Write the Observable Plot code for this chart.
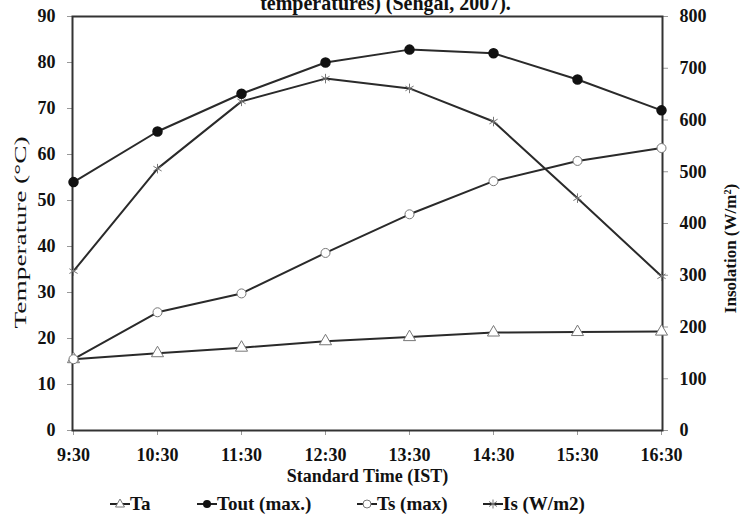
<!DOCTYPE html>
<html>
<head>
<meta charset="utf-8">
<script src="https://cdn.jsdelivr.net/npm/d3@7"></script>
<script src="https://cdn.jsdelivr.net/npm/@observablehq/plot@0.6"></script>
<style>
  body { margin: 0; background: #fff; }
  #wrap { position: relative; width: 741px; height: 516px; overflow: hidden; background: #fff;
          font-family: "Liberation Serif", "DejaVu Serif", serif; font-weight: bold; color: #111; }
  #title { position: absolute; top: -7px; left: 30px; width: 711px; text-align: center;
           font-size: 20px; line-height: 20px; z-index: 2; }
  #chart { position: absolute; top: 0; left: 0; }
  #legend { position: absolute; top: 490px; left: 0; width: 741px; height: 26px; font-size: 19px; }
  .item { position: absolute; top: 1px; height: 26px; display: flex; align-items: center; white-space: nowrap; }
</style>
</head>
<body>
<div id="wrap">
  <div id="chart"></div>
  <div id="title">temperatures) (Sehgal, 2007).</div>
  <div id="legend"></div>
</div>
<script>
const times = ["9:30", "10:30", "11:30", "12:30", "13:30", "14:30", "15:30", "16:30"];
const ta   = [15.5, 16.8, 18.0, 19.4, 20.3, 21.3, 21.4, 21.5];
const tout = [54.0, 65.0, 73.2, 80.0, 82.8, 82.0, 76.3, 69.6];
const ts   = [15.5, 25.7, 29.8, 38.6, 47.0, 54.2, 58.6, 61.4];
const is   = [308, 506, 636, 680, 661, 597, 449, 298];
const tempTicks = [0, 10, 20, 30, 40, 50, 60, 70, 80, 90];
const insTicks = [0, 100, 200, 300, 400, 500, 600, 700, 800];
const seriesNames = ["Ta", "Tout (max.)", "Ts (max)", "Is (W/m2)"];

const TMAX = 90, IMAX = 800;
const toT = v => v * TMAX / IMAX;

const rows = times.map((t, i) => ({time: t, ta: ta[i], tout: tout[i], ts: ts[i], is: is[i]}));

const font = "Liberation Serif";
const line = "#2a2a2a";
const gray = "#777";

const plot = Plot.plot({
  width: 741,
  height: 490,
  marginLeft: 72,
  marginRight: 79,
  marginTop: 16,
  marginBottom: 60,
  style: {fontFamily: font, fontSize: "18px", color: "#111", background: "#fff"},
  x: {type: "point", domain: times, padding: 0},
  y: {domain: [0, TMAX]},
  marks: [
    Plot.axisX({tickSize: 5, tickPadding: 13, fontSize: 18, fontWeight: "bold", stroke: "#999", label: null}),
    Plot.text(["Standard Time (IST)"], {frameAnchor: "bottom", dy: 51, fontSize: 18, fontWeight: "bold", fill: "#111"}),
    Plot.axisY(tempTicks, {anchor: "left", tickSize: 5, tickPadding: 12, fontSize: 18, fontWeight: "bold", stroke: "#999", label: null}),
    Plot.text(["Temperature (°C)"], {frameAnchor: "left", dx: -52, dy: 105, rotate: -90, textAnchor: "start", fontSize: 17, fontWeight: "normal", fill: "#111"}),
    Plot.axisY(insTicks.map(toT), {anchor: "right", tickSize: 5, tickPadding: 12, fontSize: 18, fontWeight: "bold", stroke: "#999", label: null,
      tickFormat: d => String(Math.round(d * IMAX / TMAX))}),
    Plot.text(["Insolation (W/m²)"], {frameAnchor: "right", dx: 68, dy: 25, rotate: -90, textAnchor: "middle", fontSize: 17, fontWeight: "bold", fill: "#111"}),
    Plot.frame({stroke: "#333", strokeWidth: 2}),
    Plot.line(rows, {x: "time", y: "ta", stroke: line, strokeWidth: 2}),
    Plot.line(rows, {x: "time", y: "ts", stroke: line, strokeWidth: 2}),
    Plot.line(rows, {x: "time", y: d => toT(d.is), stroke: line, strokeWidth: 2}),
    Plot.line(rows, {x: "time", y: "tout", stroke: line, strokeWidth: 2}),
    Plot.dot(rows, {x: "time", y: "ta", symbol: "triangle", r: 4.5, stroke: gray, fill: "#fff", strokeWidth: 1}),
    Plot.dot(rows, {x: "time", y: "ts", symbol: "circle", r: 4.5, stroke: gray, fill: "#fff", strokeWidth: 1}),
    Plot.dot(rows, {x: "time", y: d => toT(d.is), symbol: "asterisk", r: 4.5, stroke: gray, strokeWidth: 1}),
    Plot.dot(rows, {x: "time", y: "tout", symbol: "circle", r: 4.5, fill: "#111", stroke: "#111"})
  ]
});
document.getElementById("chart").appendChild(plot);

// the original's left axis title is drawn stretched along its length
plot.querySelectorAll("text").forEach(t => {
  if (t.textContent === "Temperature (°C)") {
    t.setAttribute("textLength", "192");
    t.setAttribute("lengthAdjust", "spacingAndGlyphs");
  }
});

// legend
const sym = {
  "Ta": '<path d="M10,5 L14.5,13 L5.5,13 Z" fill="#fff" stroke="#777" stroke-width="1"/>',
  "Tout (max.)": '<circle cx="10" cy="10" r="4" fill="#111"/>',
  "Ts (max)": '<circle cx="10" cy="10" r="4" fill="#fff" stroke="#777" stroke-width="1"/>',
  "Is (W/m2)": '<path d="M10,5.5 V14.5 M6,7.5 L14,12.5 M6,12.5 L14,7.5" stroke="#777" stroke-width="1" fill="none"/>'
};
const legendX = [110, 197, 357, 483];
const lg = document.getElementById("legend");
seriesNames.forEach((n, i) => {
  const el = document.createElement("div");
  el.className = "item";
  el.style.left = legendX[i] + "px";
  el.innerHTML = `<svg width="20" height="20"><line x1="0" y1="10" x2="20" y2="10" stroke="#222" stroke-width="2"/>${sym[n]}</svg><span>${n}</span>`;
  lg.appendChild(el);
});
</script>
</body>
</html>
